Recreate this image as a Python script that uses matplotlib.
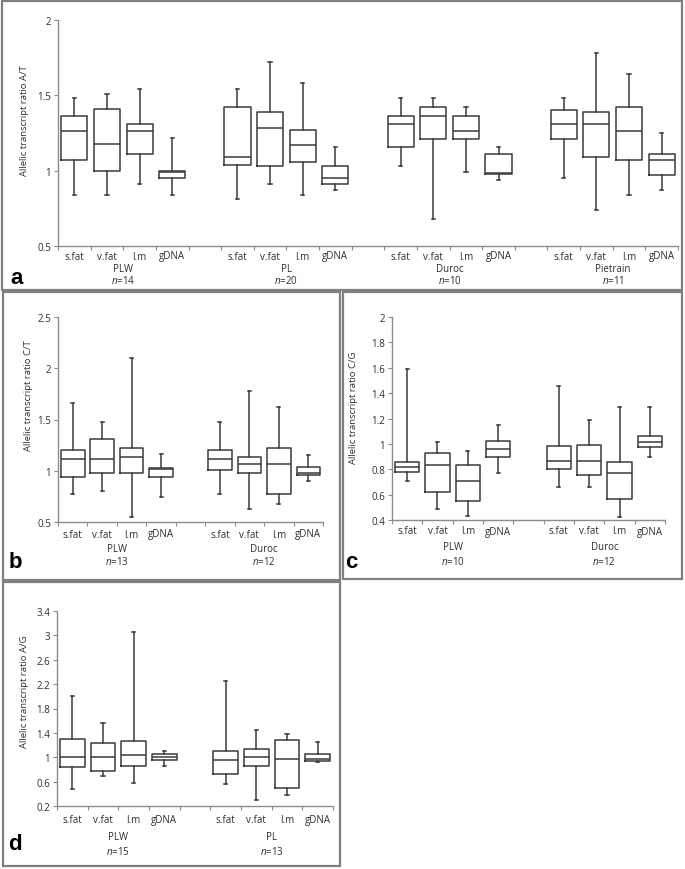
import matplotlib
matplotlib.use('Agg')
import matplotlib.pyplot as plt
from matplotlib.patches import Rectangle
from matplotlib.ticker import FormatStrFormatter, FixedLocator, NullFormatter

plt.rcParams['font.family'] = ['Open Sans', 'DejaVu Sans']
plt.rcParams['mathtext.fontset'] = 'custom'
plt.rcParams['mathtext.it'] = 'Open Sans:italic'
plt.rcParams['mathtext.rm'] = 'Open Sans'

W, H = 685, 870
FS = 7
TXT = '#2e2e2e'

tissues = ['s.fat', 'v.fat', 'l.m', 'gDNA']

# panel a: A/T
a_groups = ['PLW', 'PL', 'Duroc', 'Pietrain']
a_n = [14, 20, 10, 11]
a_hi = [1.48, 1.51, 1.54, 1.22, 1.54, 1.72, 1.58, 1.16, 1.48, 1.48, 1.42, 1.16, 1.48, 1.78, 1.64, 1.25]
a_q3 = [1.36, 1.41, 1.31, 1.00, 1.42, 1.39, 1.27, 1.03, 1.36, 1.42, 1.36, 1.11, 1.40, 1.39, 1.42, 1.11]
a_med = [1.26, 1.18, 1.26, 0.99, 1.09, 1.28, 1.17, 0.95, 1.31, 1.36, 1.26, 0.985, 1.31, 1.31, 1.26, 1.07]
a_q1 = [1.07, 1.00, 1.11, 0.95, 1.04, 1.03, 1.06, 0.91, 1.16, 1.21, 1.21, 0.98, 1.21, 1.09, 1.07, 0.97]
a_lo = [0.84, 0.84, 0.91, 0.84, 0.81, 0.91, 0.84, 0.87, 1.03, 0.68, 0.99, 0.94, 0.95, 0.74, 0.84, 0.87]

# panel b: C/T
b_groups = ['PLW', 'Duroc']
b_n = [13, 12]
b_hi = [1.66, 1.48, 2.10, 1.16, 1.48, 1.78, 1.62, 1.15]
b_q3 = [1.20, 1.31, 1.22, 1.03, 1.20, 1.13, 1.22, 1.04]
b_med = [1.11, 1.11, 1.13, 1.02, 1.11, 1.07, 1.07, 0.98]
b_q1 = [0.94, 0.98, 0.98, 0.94, 1.01, 0.98, 0.77, 0.96]
b_lo = [0.77, 0.80, 0.55, 0.74, 0.77, 0.63, 0.68, 0.90]

# panel c: C/G
c_groups = ['PLW', 'Duroc']
c_n = [10, 12]
c_hi = [1.59, 1.015, 0.94, 1.145, 1.46, 1.19, 1.29, 1.29]
c_q3 = [0.855, 0.925, 0.83, 1.02, 0.98, 0.995, 0.855, 1.065]
c_med = [0.82, 0.83, 0.71, 0.96, 0.865, 0.865, 0.77, 1.015]
c_q1 = [0.775, 0.62, 0.55, 0.90, 0.80, 0.755, 0.565, 0.975]
c_lo = [0.705, 0.49, 0.43, 0.77, 0.66, 0.66, 0.42, 0.90]

# panel d: A/G
d_groups = ['PLW', 'PL']
d_n = [15, 13]
d_hi = [2.00, 1.57, 3.06, 1.10, 2.25, 1.44, 1.38, 1.25]
d_q3 = [1.30, 1.23, 1.27, 1.05, 1.10, 1.13, 1.28, 1.06]
d_med = [1.00, 1.00, 1.03, 1.00, 0.95, 1.00, 0.97, 0.97]
d_q1 = [0.84, 0.78, 0.85, 0.95, 0.72, 0.85, 0.50, 0.94]
d_lo = [0.48, 0.70, 0.57, 0.86, 0.56, 0.30, 0.38, 0.92]

fig = plt.figure(figsize=(W / 100, H / 100), dpi=100)


def px_axes(x0, x1, ytop, ybot):
    return fig.add_axes([x0 / W, 1 - ybot / H, (x1 - x0) / W, (ybot - ytop) / H])


def frame(x0, y0, x1, y1):
    fig.add_artist(Rectangle((x0 / W, 1 - y1 / H), (x1 - x0) / W, (y1 - y0) / H,
                             transform=fig.transFigure, fill=False,
                             edgecolor='#808080', linewidth=1.6))


def panel(ax, groups, n, hi, q3, med, q1, lo, ylim, yticks, ylabel, label_y,
          lab_off, letter, letter_xy, text_offs):
    stats = []
    pos = []
    for g in range(len(groups)):
        for i in range(4):
            k = g * 4 + i
            stats.append(dict(whislo=lo[k], q1=q1[k], med=med[k], q3=q3[k],
                              whishi=hi[k], fliers=[]))
            pos.append(g * 5 + i + 1)
    lc = '#3a3a3a'
    ax.bxp(stats, positions=pos, widths=0.8, showfliers=False, capwidths=0.1,
           boxprops=dict(color=lc, linewidth=1.1),
           whiskerprops=dict(color=lc, linewidth=1.1),
           capprops=dict(color=lc, linewidth=1.1),
           medianprops=dict(color=lc, linewidth=1.1))
    ncat = len(groups) * 5 - 1
    ax.set_xlim(0.5, ncat + 0.5)
    ax.set_ylim(*ylim)
    ax.set_yticks(yticks)
    ax.yaxis.set_major_formatter(FormatStrFormatter('%g'))
    ax.xaxis.set_major_locator(FixedLocator([x + 0.5 for x in range(ncat + 1)]))
    ax.xaxis.set_major_formatter(NullFormatter())
    for s in ['top', 'right']:
        ax.spines[s].set_visible(False)
    for s in ['left', 'bottom']:
        ax.spines[s].set_color('#8c8c8c')
        ax.spines[s].set_linewidth(1.0)
    ax.tick_params(axis='both', direction='out', length=3, width=0.8,
                   color='#8c8c8c', labelsize=FS, labelcolor=TXT, pad=2)
    ax.set_ylabel(ylabel, fontsize=6.8, color=TXT)
    ax.yaxis.set_label_coords(-lab_off / (ax.get_position().width * W), label_y)
    tr = ax.get_xaxis_transform()
    hpx = ax.get_position().height * H
    t_off, g_off, n_off = text_offs
    for x, g in zip(pos, [t for _ in groups for t in tissues]):
        ax.text(x, -t_off / hpx, g, transform=tr, ha='center', va='center',
                fontsize=FS, color=TXT)
    for gi, g in enumerate(groups):
        xc = gi * 5 + 2.5
        ax.text(xc, -g_off / hpx, g, transform=tr, ha='center', va='center',
                fontsize=FS, color=TXT)
        ax.text(xc, -n_off / hpx, '$n$=%d' % n[gi], transform=tr, ha='center',
                va='center', fontsize=FS, color=TXT)
    fig.text(letter_xy[0] / W, 1 - letter_xy[1] / H, letter, fontsize=16,
             fontweight='bold', family='Liberation Sans', ha='center', va='center')


frame(2, 2, 682, 291)
frame(3, 293, 340, 581)
frame(343, 293, 682, 580)
frame(3, 583, 340, 867)

ax_a = px_axes(58, 678, 21, 247)
panel(ax_a, a_groups, a_n, a_hi, a_q3, a_med, a_q1, a_lo, (0.5, 2),
      [0.5, 1, 1.5, 2], 'Allelic transcript ratio A/T', 0.56, 29, 'a',
      (17, 279), (10, 22, 34))

ax_b = px_axes(58, 323, 318, 523)
panel(ax_b, b_groups, b_n, b_hi, b_q3, b_med, b_q1, b_lo, (0.5, 2.5),
      [0.5, 1, 1.5, 2, 2.5], 'Allelic transcript ratio C/T', 0.62, 25, 'b',
      (15, 562), (12, 27, 39))

ax_c = px_axes(392, 665, 318, 521)
panel(ax_c, c_groups, c_n, c_hi, c_q3, c_med, c_q1, c_lo, (0.4, 2.0),
      [0.4, 0.6, 0.8, 1.0, 1.2, 1.4, 1.6, 1.8, 2.0], 'Allelic transcript ratio C/G',
      0.56, 34, 'c', (351, 562), (11, 27, 41))

ax_d = px_axes(57, 333, 612, 807)
panel(ax_d, d_groups, d_n, d_hi, d_q3, d_med, d_q1, d_lo, (0.2, 3.4),
      [0.2, 0.6, 1.0, 1.4, 1.8, 2.2, 2.6, 3.0, 3.4], 'Allelic transcript ratio A/G',
      0.59, 28, 'd', (15, 845), (14, 31, 45))

fig.savefig('out.png', dpi=100)
